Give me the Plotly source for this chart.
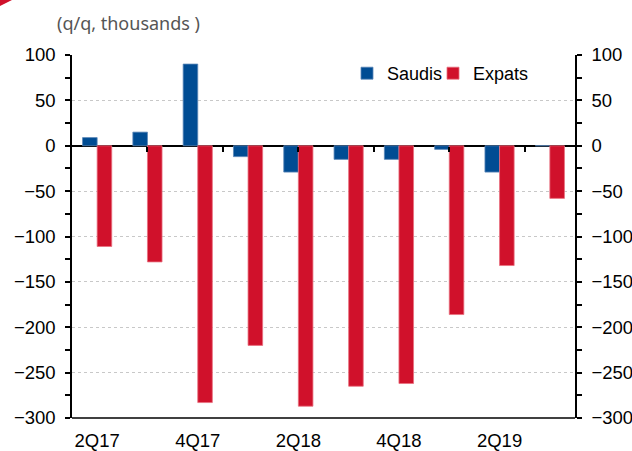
import plotly.graph_objects as go

quarters = ["2Q17", "3Q17", "4Q17", "1Q18", "2Q18", "3Q18", "4Q18", "1Q19", "2Q19", "3Q19"]
saudis = [9, 15, 90, -12, -29, -15, -15, -4, -29, 0]
expats = [-111, -128, -283, -220, -287, -265, -262, -186, -132, -58]
tick_labels = ["2Q17", "4Q17", "2Q18", "4Q18", "2Q19"]
zero_ticks = [1, 2.5, 4, 5.5, 7, 8.5]
y_range = [-300, 100]

BLUE = "#004C93"
RED = "#D0112B"
FONT = "Liberation Sans, Arial, sans-serif"

fig = go.Figure()
fig.add_trace(go.Bar(name="Saudis", x=quarters, y=saudis, legend="legend",
                     marker=dict(color=BLUE, line=dict(color="#5a86b8", width=0.8))))
fig.add_trace(go.Bar(name="Expats", x=quarters, y=expats, legend="legend2",
                     marker=dict(color=RED, line=dict(color="#e8707f", width=0.8))))
# helper traces so the overlay axes render
fig.add_trace(go.Scatter(x=[None], y=[None], yaxis="y2", showlegend=False, hoverinfo="skip"))
fig.add_trace(go.Scatter(x=[None], y=[None], xaxis="x2", showlegend=False, hoverinfo="skip"))

axis_common = dict(
    range=y_range, dtick=50, tick0=0, automargin=False,
    ticks="outside", ticklen=5, tickwidth=1.5, tickcolor="black",
    showline=True, linecolor="black", linewidth=1.5, ticklabelstandoff=6,
    minor=dict(dtick=25, ticks="outside", ticklen=5, tickwidth=1.5, tickcolor="black", showgrid=False),
    tickfont=dict(family=FONT, size=18.5, color="black"),
)

legend_common = dict(orientation="h", y=1.0, xanchor="left", yanchor="top",
                     font=dict(family=FONT, size=18, color="black"), bgcolor="rgba(0,0,0,0)",
                     itemwidth=30)

fig.update_layout(
    width=632, height=451,
    margin=dict(l=72, r=57, t=55, b=33),
    paper_bgcolor="white", plot_bgcolor="white",
    barmode="group", bargap=0.42, bargroupgap=0,
    showlegend=True,
    legend=dict(x=(347-72)/503, **legend_common),
    legend2=dict(x=(433-72)/503, **legend_common),
    xaxis=dict(type="category", tickvals=tick_labels, ticktext=tick_labels, ticks="",
               showline=False, showgrid=False, ticklabelstandoff=9, automargin=False,
               tickfont=dict(family=FONT, size=18.5, color="black")),
    xaxis2=dict(overlaying="x", anchor="free", position=0.75, range=[-0.5, 9.5], automargin=False,
                tickvals=zero_ticks, ticks="outside", ticklen=5, tickwidth=1.5, tickcolor="black",
                showticklabels=False, showgrid=False, showline=False, zeroline=False),
    yaxis=dict(side="left", showgrid=True, gridcolor="#c8c8c8", griddash="dot", gridwidth=1,
               zeroline=True, zerolinecolor="black", zerolinewidth=1.5, **axis_common),
    yaxis2=dict(side="right", overlaying="y", showgrid=False, zeroline=False, **axis_common),
    shapes=[
        dict(type="line", xref="paper", yref="paper", x0=0, x1=1, y0=0, y1=0,
             line=dict(color="black", width=1.5)),
        dict(type="path", xref="paper", yref="paper", xsizemode="pixel", ysizemode="pixel",
             xanchor=-72/503, yanchor=418/363, path="M0,0 L12,0 L0,-6 Z",
             fillcolor=RED, line=dict(width=0)),
    ],
    annotations=[
        dict(text="(q/q, thousands )", xref="paper", yref="paper", x=-17/503, y=(418-23)/363,
             xanchor="left", yanchor="middle", showarrow=False,
             font=dict(family="Noto Sans, sans-serif", size=18, color="#555555")),
    ],
)

fig.write_html("out.html")
